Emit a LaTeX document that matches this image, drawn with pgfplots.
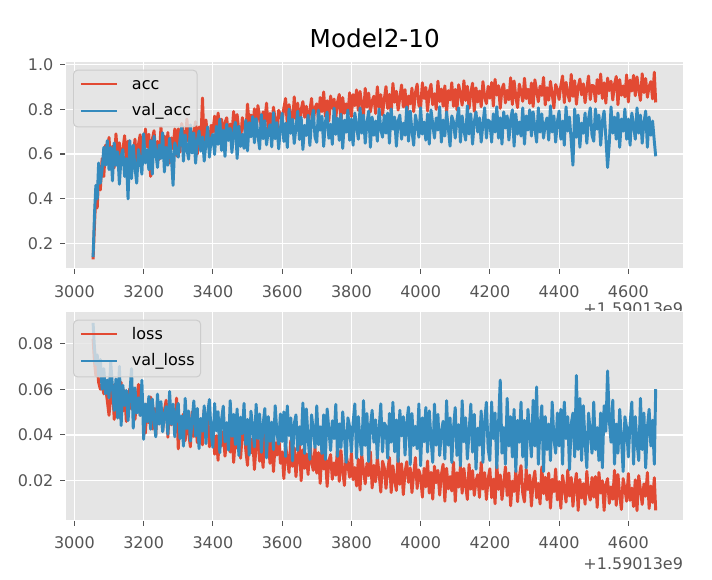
\documentclass[border=0pt]{standalone}
\usepackage{pgfplots}
\pgfplotsset{compat=1.18}
\usepackage{pgfplotstable}
\usepackage{fontspec}
\setmainfont{DejaVu Sans}
\definecolor{bg}{HTML}{E5E5E5}
\definecolor{mred}{HTML}{E24A33}
\definecolor{mblue}{HTML}{348ABD}
\definecolor{tickgray}{HTML}{555555}
\definecolor{legedge}{HTML}{CCCCCC}

\pgfplotstableread{
x acc vacc loss vloss
3054 0.13 0.14 0.082 0.089
3058 0.28 0.33 0.072 0.078
3062 0.42 0.46 0.066 0.071
3066 0.36 0.40 0.070 0.075
3070 0.50 0.56 0.063 0.066
3075 0.44 0.47 0.060 0.073
3080 0.58 0.53 0.062 0.060
3085 0.50 0.63 0.058 0.069
3090 0.64 0.55 0.061 0.058
3095 0.56 0.66 0.055 0.064
3100 0.674 0.53 0.0486 0.0562
3105 0.562 0.63 0.0567 0.072
3110 0.634 0.48 0.0621 0.0606
3115 0.538 0.65 0.0468 0.0507
3120 0.690 0.55 0.0585 0.0645
3125 0.594 0.61 0.0522 0.0474
3130 0.650 0.465 0.0477 0.070
3135 0.554 0.59 0.0630 0.0441
3140 0.618 0.62 0.0504 0.0617
3145 0.682 0.50 0.0594 0.0529
3150 0.570 0.58 0.0459 0.0595
3155 0.658 0.40 0.0558 0.0463
3160 0.530 0.66 0.0603 0.0573
3165 0.626 0.49 0.0513 0.069
3170 0.586 0.64 0.0576 0.0430
3175 0.666 0.54 0.0468 0.0606
3180 0.546 0.47 0.0549 0.0496
3185 0.642 0.62 0.0621 0.0562
3190 0.686 0.57 0.0486 0.0485
3195 0.578 0.51 0.0567 0.0639
3200 0.584 0.69 0.0498 0.0381
3205 0.712 0.56 0.0408 0.0535
3210 0.632 0.62 0.0534 0.0458
3215 0.688 0.53 0.0453 0.0568
3220 0.50 0.66 0.0566 0.0425
3225 0.664 0.51 0.0426 0.0557
3230 0.704 0.68 0.0516 0.0469
3235 0.600 0.61 0.0399 0.0392
3240 0.656 0.54 0.0543 0.0579
3245 0.576 0.64 0.0471 0.0447
3250 0.720 0.58 0.0525 0.0546
3255 0.616 0.695 0.0417 0.0414
3260 0.680 0.52 0.0507 0.0491
3265 0.592 0.63 0.0552 0.0524
3270 0.696 0.55 0.0390 0.0403
3275 0.560 0.67 0.0534 0.0590
3280 0.672 0.59 0.0444 0.0447
3285 0.624 0.46 0.0498 0.0535
3290 0.712 0.65 0.0435 0.0392
3295 0.592 0.62 0.0561 0.0502
3300 0.712 0.586 0.0339 0.0538
3305 0.608 0.667 0.0465 0.0384
3310 0.736 0.721 0.0402 0.0483
3315 0.688 0.568 0.0492 0.0351
3320 0.632 0.685 0.0375 0.0560
3325 0.756 0.622 0.0483 0.0428
3330 0.656 0.577 0.0411 0.0505
3335 0.728 0.730 0.0348 0.0373
3340 0.616 0.604 0.0501 0.0461
3345 0.696 0.694 0.0393 0.0549
3350 0.744 0.559 0.0474 0.0395
3355 0.600 0.658 0.0366 0.0516
3360 0.720 0.703 0.0429 0.0340
3365 0.648 0.613 0.0456 0.0472
3370 0.85 0.676 0.0357 0.0417
3375 0.624 0.568 0.0510 0.0527
3380 0.752 0.649 0.0393 0.0362
3385 0.672 0.721 0.0465 0.0494
3390 0.640 0.586 0.0348 0.0555
3395 0.728 0.667 0.0438 0.0406
3400 0.699 0.688 0.0442 0.0346
3405 0.769 0.598 0.0316 0.0538
3410 0.664 0.724 0.0397 0.0418
3415 0.783 0.643 0.0289 0.0502
3420 0.713 0.756 0.0460 0.0322
3425 0.755 0.616 0.0352 0.0466
3430 0.654 0.706 0.0415 0.0526
3435 0.741 0.589 0.0307 0.0370
3440 0.762 0.733 0.0379 0.0454
3445 0.678 0.661 0.0451 0.0334
3450 0.734 0.715 0.0325 0.0550
3455 0.692 0.607 0.0424 0.0394
3460 0.790 0.697 0.0280 0.0490
3465 0.671 0.742 0.0388 0.0358
3470 0.776 0.580 0.0343 0.0514
3475 0.706 0.724 0.0433 0.0310
3480 0.657 0.634 0.0298 0.0478
3485 0.762 0.688 0.0406 0.0406
3490 0.727 0.625 0.0456 0.0538
3495 0.685 0.751 0.0334 0.0358
3500 0.823 0.614 0.0267 0.0468
3505 0.732 0.740 0.0411 0.0312
3510 0.774 0.677 0.0321 0.0504
3515 0.711 0.767 0.0384 0.0432
3520 0.802 0.650 0.0249 0.0348
3525 0.697 0.758 0.0357 0.0534
3530 0.816 0.686 0.0402 0.0384
3535 0.767 0.623 0.0285 0.0492
3540 0.718 0.776 0.0348 0.0324
3545 0.788 0.668 0.0258 0.0444
3550 0.746 0.749 0.0420 0.0516
3555 0.827 0.641 0.0303 0.0300
3560 0.704 0.704 0.0375 0.0480
3565 0.781 0.731 0.0276 0.0372
3570 0.725 0.632 0.0393 0.0456
3575 0.809 0.785 0.0240 0.0336
3580 0.753 0.668 0.0366 0.0528
3585 0.690 0.740 0.0312 0.0408
3590 0.795 0.623 0.0411 0.0360
3595 0.774 0.713 0.0276 0.0492
3600 0.743 0.782 0.0326 0.0371
3605 0.806 0.656 0.0209 0.0501
3610 0.848 0.737 0.0353 0.0306
3615 0.729 0.629 0.0299 0.0527
3620 0.820 0.800 0.0236 0.0397
3625 0.771 0.692 0.0376 0.0475
3630 0.736 0.755 0.0263 0.0287
3635 0.855 0.647 0.0344 0.0449
3640 0.757 0.719 0.0218 0.0488
3645 0.827 0.791 0.0308 0.0332
3650 0.722 0.665 0.0362 0.0436
3655 0.799 0.764 0.0200 0.0358
3660 0.834 0.620 0.0335 0.0540
3665 0.764 0.728 0.0254 0.0319
3670 0.813 0.683 0.0317 0.0514
3675 0.729 0.773 0.0227 0.0384
3680 0.792 0.638 0.0371 0.0293
3685 0.848 0.746 0.0281 0.0488
3690 0.743 0.796 0.0245 0.0423
3695 0.806 0.674 0.0344 0.0345
3700 0.824 0.652 0.0233 0.0527
3705 0.754 0.796 0.0323 0.0358
3710 0.852 0.706 0.0188 0.0436
3715 0.789 0.769 0.0341 0.0319
3720 0.877 0.634 0.0251 0.0488
3725 0.768 0.742 0.0305 0.0293
3730 0.838 0.787 0.0175 0.0514
3735 0.747 0.670 0.0287 0.0423
3740 0.859 0.733 0.0314 0.0332
3745 0.803 0.643 0.0206 0.0462
3750 0.845 0.805 0.0278 0.0384
3755 0.761 0.688 0.0224 0.0534
3760 0.831 0.760 0.0350 0.0306
3765 0.866 0.661 0.0197 0.0449
3770 0.740 0.778 0.0332 0.0345
3775 0.852 0.625 0.0242 0.0501
3780 0.782 0.751 0.0179 0.0397
3785 0.824 0.697 0.0314 0.0280
3790 0.775 0.796 0.0269 0.0475
3795 0.873 0.661 0.0215 0.0436
3800 0.767 0.756 0.0321 0.0326
3805 0.865 0.639 0.0204 0.0452
3810 0.816 0.783 0.0258 0.0536
3815 0.886 0.729 0.0177 0.0298
3820 0.795 0.666 0.0294 0.0480
3825 0.879 0.806 0.0159 0.0382
3830 0.823 0.693 0.0312 0.0312
3835 0.774 0.774 0.0249 0.0550
3840 0.893 0.648 0.0186 0.0354
3845 0.809 0.738 0.0276 0.0494
3850 0.872 0.792 0.0222 0.0284
3855 0.788 0.630 0.0326 0.0438
3860 0.837 0.765 0.0168 0.0508
3865 0.858 0.684 0.0267 0.0368
3870 0.781 0.747 0.0195 0.0466
3875 0.900 0.657 0.0303 0.0298
3880 0.809 0.801 0.0231 0.0424
3885 0.865 0.711 0.0150 0.0536
3890 0.774 0.675 0.0285 0.0326
3895 0.844 0.774 0.0258 0.0452
3900 0.901 0.693 0.0166 0.0438
3905 0.803 0.783 0.0247 0.0298
3910 0.866 0.648 0.0301 0.0494
3915 0.782 0.801 0.0148 0.0368
3920 0.915 0.711 0.0265 0.0543
3925 0.831 0.765 0.0202 0.0326
3930 0.880 0.635 0.0157 0.0466
3935 0.796 0.747 0.0310 0.0284
3940 0.852 0.774 0.0184 0.0508
3945 0.908 0.666 0.0274 0.0396
3950 0.810 0.738 0.0139 0.0480
3955 0.887 0.684 0.0238 0.0312
3960 0.775 0.810 0.0283 0.0452
3965 0.859 0.657 0.0193 0.0522
3970 0.824 0.792 0.0256 0.0270
3975 0.894 0.702 0.0148 0.0494
3980 0.789 0.639 0.0229 0.0354
3985 0.873 0.774 0.0301 0.0438
3990 0.912 0.729 0.0166 0.0340
3995 0.817 0.675 0.0247 0.0536
4000 0.806 0.806 0.0218 0.0265
4005 0.918 0.689 0.0128 0.0475
4010 0.848 0.743 0.0254 0.0370
4015 0.897 0.662 0.0173 0.0520
4020 0.792 0.779 0.0286 0.0325
4025 0.876 0.644 0.0146 0.0505
4030 0.911 0.797 0.0236 0.0385
4035 0.820 0.734 0.0119 0.0280
4040 0.869 0.671 0.0263 0.0535
4045 0.799 0.761 0.0191 0.0355
4050 0.925 0.707 0.0245 0.0490
4055 0.834 0.811 0.0137 0.0310
4060 0.890 0.653 0.0227 0.0415
4065 0.813 0.752 0.0272 0.0460
4070 0.904 0.680 0.0110 0.0295
4075 0.785 0.788 0.0254 0.0550
4080 0.883 0.716 0.0164 0.0355
4085 0.841 0.635 0.0218 0.0475
4090 0.918 0.770 0.0155 0.0280
4095 0.813 0.743 0.0281 0.0430
4100 0.888 0.671 0.0109 0.0520
4105 0.797 0.752 0.0235 0.0310
4110 0.909 0.806 0.0172 0.0445
4115 0.867 0.653 0.0262 0.0265
4120 0.818 0.770 0.0145 0.0550
4125 0.927 0.707 0.0253 0.0370
4130 0.839 0.662 0.0181 0.0475
4135 0.902 0.815 0.0118 0.0295
4140 0.804 0.689 0.0271 0.0415
4145 0.874 0.779 0.0163 0.0535
4150 0.916 0.644 0.0244 0.0325
4155 0.790 0.743 0.0136 0.0490
4160 0.895 0.788 0.0199 0.0250
4165 0.832 0.698 0.0226 0.0430
4170 0.881 0.761 0.0127 0.0355
4175 0.811 0.653 0.0280 0.0505
4180 0.923 0.734 0.0163 0.0280
4185 0.853 0.806 0.0235 0.0460
4190 0.825 0.671 0.0118 0.0543
4195 0.902 0.752 0.0208 0.0340
4200 0.849 0.743 0.0252 0.0288
4205 0.919 0.653 0.0126 0.0544
4210 0.814 0.779 0.0207 0.0384
4215 0.933 0.698 0.0099 0.0496
4220 0.863 0.811 0.0270 0.0256
4225 0.905 0.671 0.0162 0.0448
4230 0.804 0.761 0.0225 0.064
4235 0.891 0.644 0.0117 0.0320
4240 0.912 0.788 0.0189 0.0432
4245 0.828 0.716 0.0261 0.0272
4250 0.884 0.770 0.0135 0.0560
4255 0.842 0.662 0.0234 0.0352
4260 0.940 0.752 0.0090 0.0480
4265 0.821 0.797 0.0198 0.0304
4270 0.926 0.635 0.0153 0.0512
4275 0.856 0.779 0.0243 0.0240
4280 0.807 0.689 0.0108 0.0464
4285 0.912 0.743 0.0216 0.0368
4290 0.877 0.680 0.0266 0.0544
4295 0.835 0.806 0.0144 0.0304
4300 0.938 0.644 0.0107 0.0464
4305 0.847 0.770 0.0251 0.0256
4310 0.889 0.707 0.0161 0.0512
4315 0.826 0.797 0.0224 0.0416
4320 0.917 0.680 0.0089 0.0304
4325 0.812 0.788 0.0197 0.0552
4330 0.931 0.716 0.0242 0.0352
4335 0.882 0.653 0.0125 0.061
4340 0.833 0.806 0.0188 0.0272
4345 0.903 0.698 0.0098 0.0432
4350 0.861 0.779 0.0260 0.0528
4355 0.942 0.671 0.0143 0.0240
4360 0.819 0.734 0.0215 0.0480
4365 0.896 0.761 0.0116 0.0336
4370 0.840 0.662 0.0233 0.0448
4375 0.924 0.815 0.0080 0.0288
4380 0.868 0.698 0.0206 0.0544
4385 0.805 0.770 0.0152 0.0384
4390 0.910 0.653 0.0251 0.0320
4395 0.889 0.743 0.0116 0.0496
4400 0.843 0.792 0.0196 0.0352
4405 0.906 0.666 0.0079 0.0512
4410 0.948 0.747 0.0223 0.0272
4415 0.829 0.639 0.0169 0.0544
4420 0.920 0.810 0.0106 0.0384
4425 0.871 0.702 0.0246 0.0480
4430 0.836 0.765 0.0133 0.0248
4435 0.955 0.657 0.0214 0.0448
4440 0.857 0.55 0.0088 0.0496
4445 0.927 0.801 0.0178 0.0304
4450 0.822 0.675 0.0232 0.066
4455 0.899 0.774 0.0070 0.0336
4460 0.934 0.630 0.0205 0.0560
4465 0.864 0.738 0.0124 0.0288
4470 0.913 0.693 0.0187 0.0528
4475 0.829 0.783 0.0097 0.0368
4480 0.892 0.648 0.0241 0.0256
4485 0.948 0.756 0.0151 0.0496
4490 0.843 0.806 0.0115 0.0416
4495 0.906 0.684 0.0214 0.0320
4500 0.904 0.657 0.0128 0.0544
4505 0.834 0.801 0.0218 0.0336
4510 0.932 0.711 0.0083 0.0432
4515 0.869 0.774 0.0236 0.0288
4520 0.957 0.639 0.0146 0.0496
4525 0.848 0.747 0.0200 0.0256
4530 0.918 0.792 0.0070 0.0528
4535 0.827 0.675 0.0182 0.0416
4540 0.939 0.54 0.0209 0.068
4545 0.883 0.648 0.0101 0.0464
4550 0.925 0.810 0.0173 0.0368
4555 0.841 0.693 0.0119 0.0552
4560 0.911 0.765 0.0245 0.0272
4565 0.946 0.666 0.0092 0.0448
4570 0.820 0.783 0.0227 0.0320
4575 0.932 0.630 0.0137 0.0512
4580 0.862 0.756 0.0074 0.0384
4585 0.904 0.702 0.0209 0.0240
4590 0.855 0.801 0.0164 0.0480
4595 0.953 0.666 0.0110 0.0432
4600 0.832 0.756 0.0231 0.0304
4605 0.930 0.639 0.0114 0.0448
4610 0.881 0.783 0.0168 0.0544
4615 0.951 0.729 0.0087 0.0272
4620 0.860 0.666 0.0204 0.0480
4625 0.944 0.806 0.0069 0.0368
4630 0.888 0.693 0.0222 0.0288
4635 0.839 0.774 0.0159 0.0560
4640 0.958 0.648 0.0096 0.0336
4645 0.874 0.738 0.0186 0.0496
4650 0.937 0.792 0.0132 0.0256
4655 0.853 0.630 0.0236 0.0432
4660 0.902 0.765 0.0078 0.0512
4665 0.923 0.684 0.0177 0.0352
4670 0.846 0.747 0.0105 0.0464
4675 0.965 0.657 0.0213 0.0272
4679 0.83 0.59 0.007 0.060
}\data

\pgfplotsset{ggstyle/.style={
  scale only axis, width=463.5pt,
  xmin=2975, xmax=4760,
  axis background/.style={fill=bg},
  axis line style={white, line width=0.75pt},
  grid=major, major grid style={white, line width=0.9pt},
  tick align=outside, major tick length=4.2pt,
  xtick pos=bottom, ytick pos=left,
  tick style={tickgray, line width=0.8pt},
  ticklabel style={font=\fontsize{12}{14}\selectfont, text=tickgray},
  /pgf/number format/assume math mode=true,
  scaled ticks=false,
  xtick={3000,3200,...,4600},
  xticklabel style={/pgf/number format/1000 sep={}, yshift=-5pt},
  yticklabel style={xshift=-1.5pt},
  legend cell align=left,
  legend style={at={(0,1)}, anchor=north west, xshift=5.5pt, yshift=-6pt,
    draw=legedge, line width=0.75pt, fill=bg, fill opacity=0.8, draw opacity=1,
    text opacity=1, rounded corners=3pt, inner xsep=4.5pt, inner ysep=5.25pt,
    row sep=8pt, font=\fontsize{12}{14}\selectfont,
    nodes={inner sep=0pt, text height=9pt, text depth=3pt},
    /tikz/every odd column/.append style={column sep=10.5pt}},
  legend image code/.code={\draw[#1, line width=1.8pt] (0pt,0.8pt) -- (27pt,0.8pt);},
  every axis plot/.append style={line width=2.2pt, line join=round, no marks},
}}

\begin{document}
\begin{tikzpicture}
\path[use as bounding box] (0,0) rectangle (534pt,434.25pt);
\begin{axis}[ggstyle, name=top, at={(49.3pt,233pt)}, anchor=south west,
  height=155pt, ymin=0.09, ymax=1.012,
  ytick={0.2,0.4,0.6,0.8,1.0},
  yticklabel style={/pgf/number format/fixed, /pgf/number format/fixed zerofill, /pgf/number format/precision=1},
  title={Model2-10},
  title style={font=\fontsize{18.5}{22}\selectfont, yshift=0.5pt}]
\addplot[mred] table[x=x,y=acc]{\data};
\addlegendentry{acc}
\addplot[mblue] table[x=x,y=vacc]{\data};
\addlegendentry{val\_acc}
\end{axis}
\node[anchor=east, font=\fontsize{12}{14}\selectfont, text=tickgray, xshift=3pt, yshift=-30.5pt] at (top.south east) {+1.59013e9};
\begin{axis}[ggstyle, name=bot, at={(49.3pt,44.25pt)}, anchor=south west,
  height=156.2pt, ymin=0.0028, ymax=0.0939,
  ytick={0.02,0.04,0.06,0.08},
  yticklabel style={/pgf/number format/fixed, /pgf/number format/fixed zerofill, /pgf/number format/precision=2}]
\addplot[mred] table[x=x,y=loss]{\data};
\addlegendentry{loss}
\addplot[mblue] table[x=x,y=vloss]{\data};
\addlegendentry{val\_loss}
\end{axis}
\node[anchor=east, font=\fontsize{12}{14}\selectfont, text=tickgray, xshift=3pt, yshift=-33pt] at (bot.south east) {+1.59013e9};
\end{tikzpicture}
\end{document}
